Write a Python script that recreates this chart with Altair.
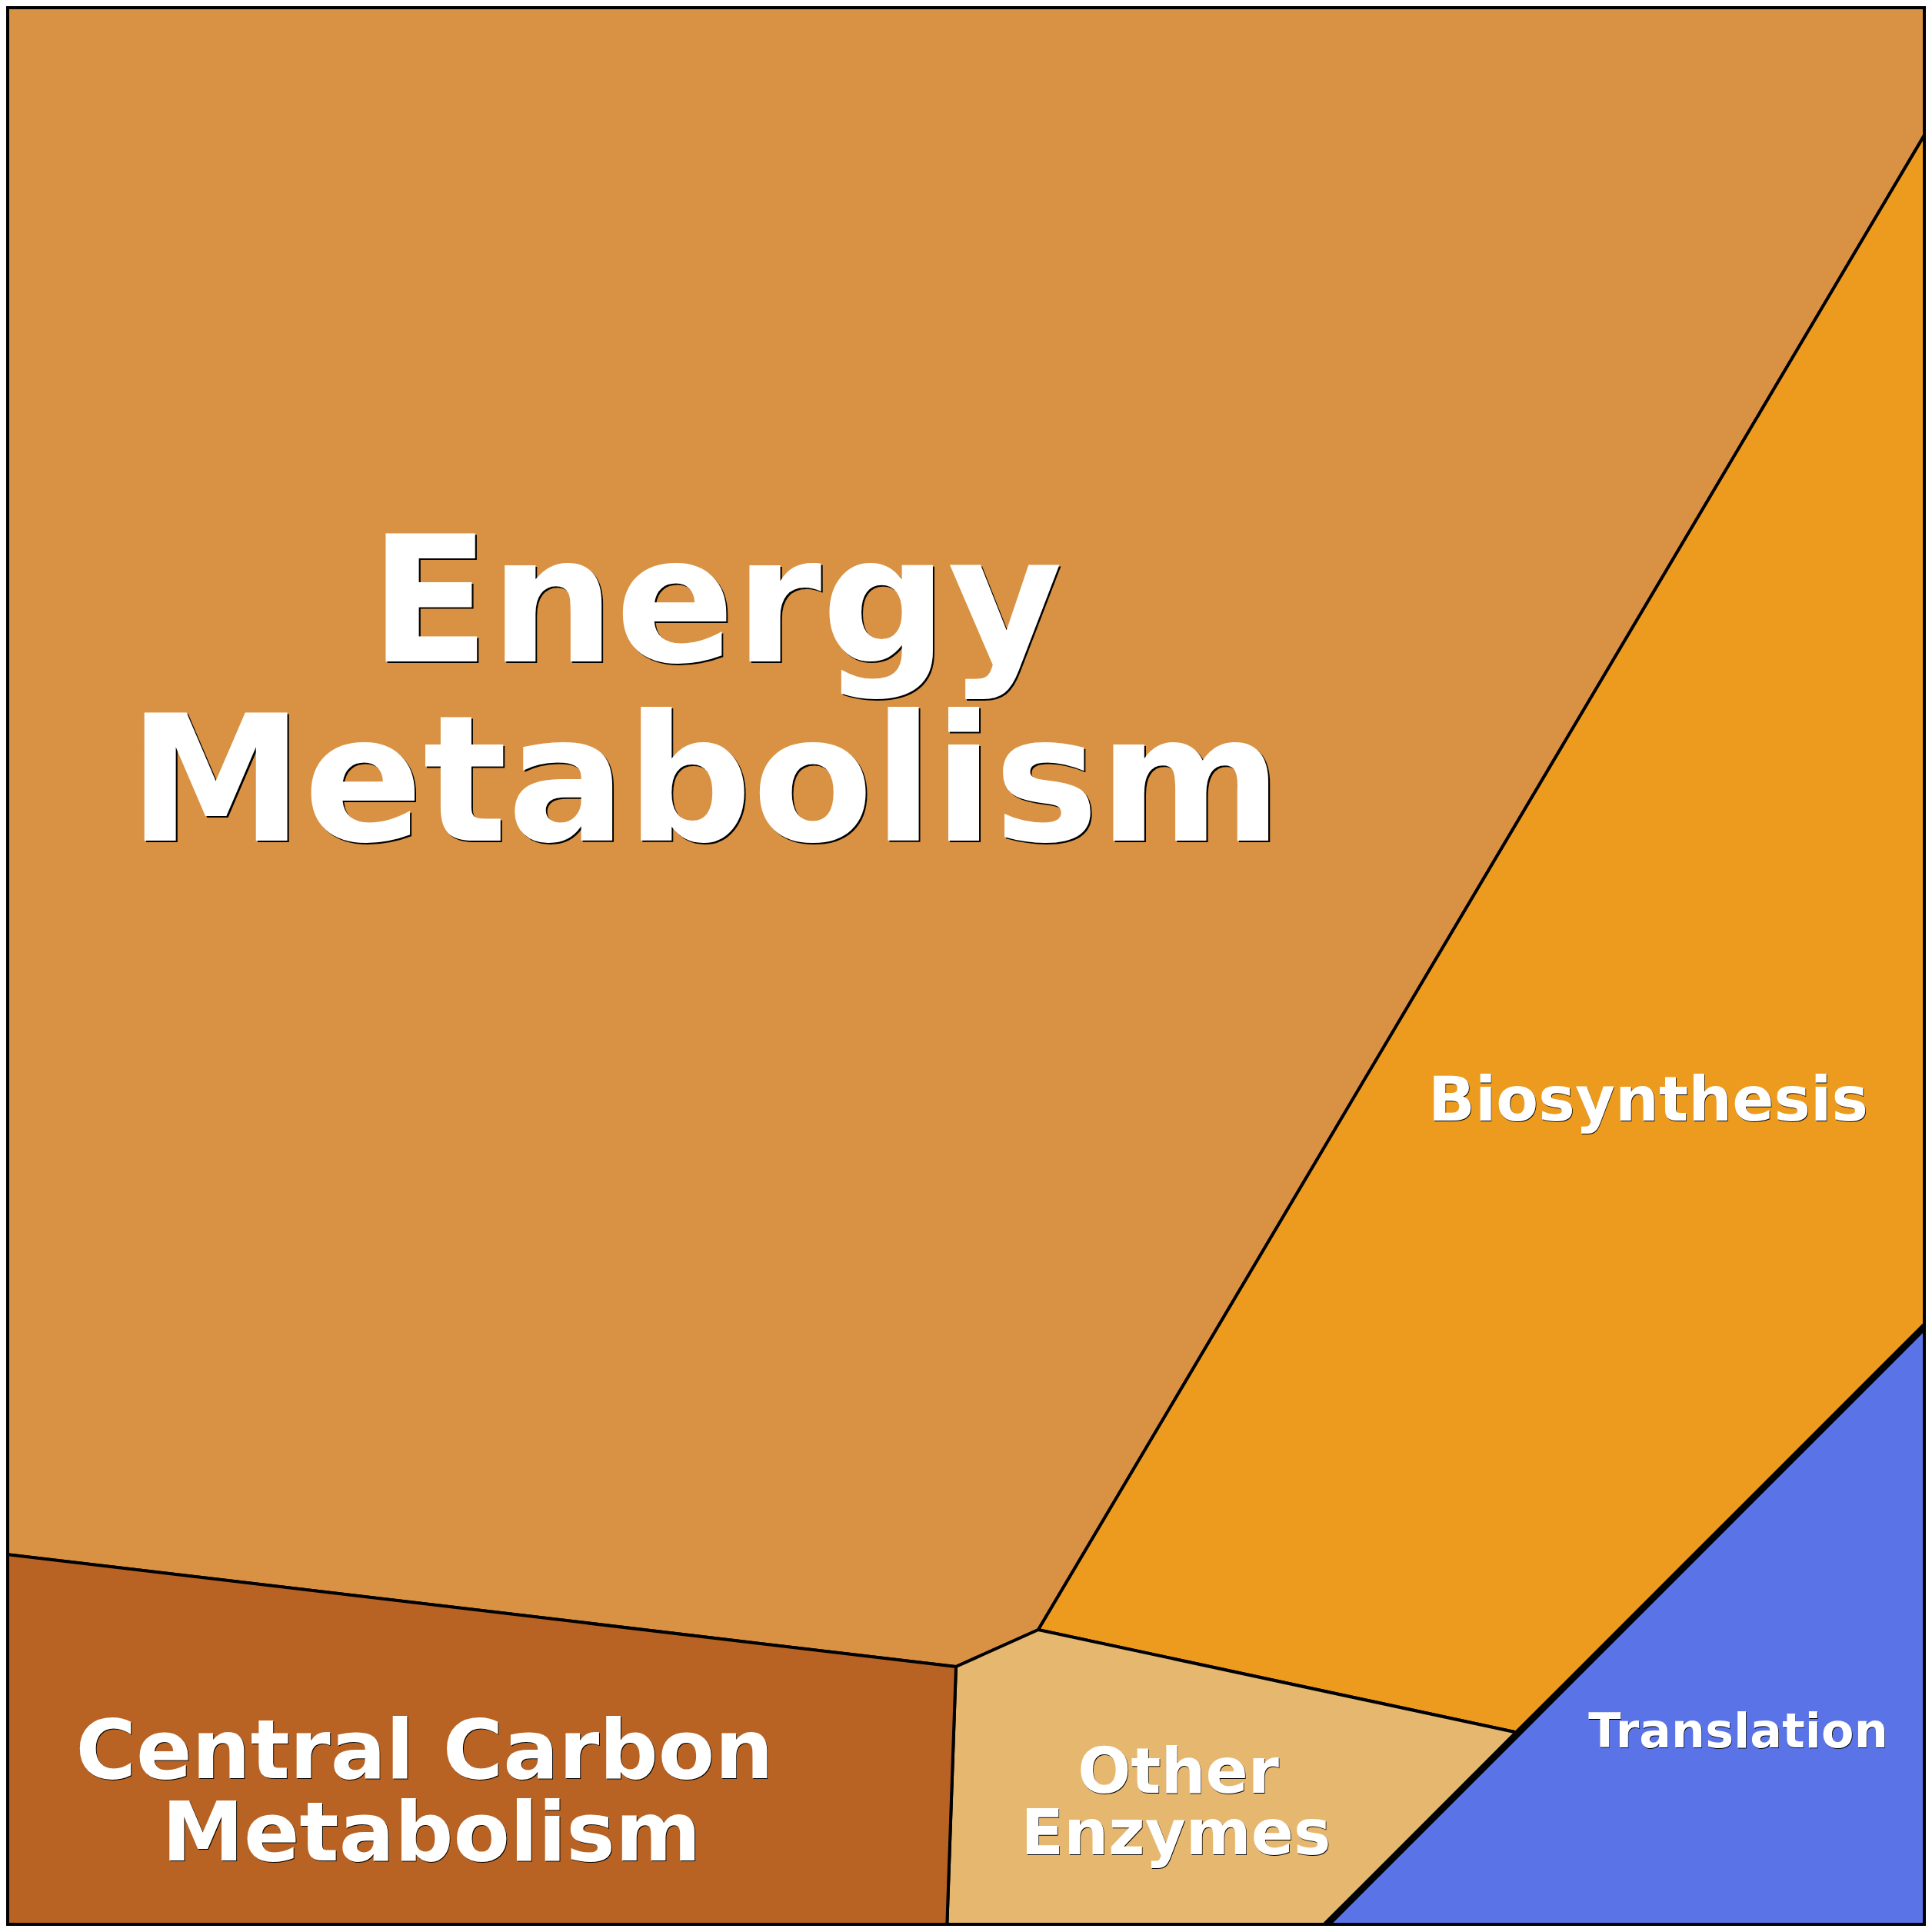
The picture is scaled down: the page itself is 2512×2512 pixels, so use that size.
import altair as alt
import pandas as pd

# Voronoi treemap cells (vertex lists, reference pixel space)
categories = ["Energy Metabolism", "Biosynthesis", "Translation", "Other Enzymes", "Central Carbon Metabolism"]
colors = ["#D99243", "#EC9B1E", "#5A74E8", "#E6B76E", "#B86323"]
energy_cell = [(0, 0), (2512, 0), (2512, 159), (1350, 2119), (1243, 2167), (0, 2020)]
biosynthesis_cell = [(2512, 159), (2512, 1715), (1974, 2253), (1350, 2119)]
translation_cell = [(2512, 1715), (2512, 2512), (1715, 2512), (1974, 2253)]
other_cell = [(1243, 2167), (1350, 2119), (1974, 2253), (1715, 2512), (1231, 2512)]
central_cell = [(0, 2020), (1243, 2167), (1231, 2512), (0, 2512)]
cells = [energy_cell, biosynthesis_cell, translation_cell, other_cell, central_cell]
stroke_widths = [4, 4, 9, 4, 4]

# Label lines
label_lines = ["Energy", "Metabolism", "Biosynthesis", "Translation", "Other", "Enzymes",
               "Central Carbon", "Metabolism"]
label_x = [931, 917, 2143, 2260, 1532, 1529, 552, 561]
label_y = [860, 1093, 1457, 2272, 2331, 2411, 2312, 2419]
label_size = [229, 229, 80, 62, 81.5, 81.5, 107, 107]

OFF = 8
features = []
for name, col, poly, sw in zip(categories, colors, cells, stroke_widths):
    ring = [[x - OFF, y - OFF] for x, y in poly]
    ring.append(ring[0])
    features.append({
        "type": "Feature",
        "properties": {"name": name, "color": col, "sw": sw},
        "geometry": {"type": "Polygon", "coordinates": [ring]},
    })

geo = alt.InlineData(values={"type": "FeatureCollection", "features": features},
                     format=alt.DataFormat(property="features", type="json"))

cells_layer = alt.Chart(geo).mark_geoshape(stroke="black").encode(
    fill=alt.Color("properties.color:N", scale=None),
    strokeWidth=alt.StrokeWidth("properties.sw:Q", scale=None),
    order=alt.Order("properties.sw:Q"),
).project(type="identity", scale=1, translate=[0, 0])

lab = pd.DataFrame({
    "t": label_lines,
    "x": [v - OFF for v in label_x],
    "y": [v - OFF for v in label_y],
    "s": label_size,
})
lab["xs"] = lab["x"] + lab["s"] / 110.0
lab["ys"] = lab["y"] + lab["s"] / 110.0

shadow = alt.Chart(lab).mark_text(font="DejaVu Sans", fontWeight="bold", align="center",
                                   baseline="alphabetic", color="black").encode(
    x=alt.X("xs:Q", scale=None, axis=None),
    y=alt.Y("ys:Q", scale=None, axis=None),
    size=alt.Size("s:Q", scale=None, legend=None),
    text="t:N",
)
text = alt.Chart(lab).mark_text(font="DejaVu Sans", fontWeight="bold", align="center",
                                 baseline="alphabetic", color="white").encode(
    x=alt.X("x:Q", scale=None, axis=None),
    y=alt.Y("y:Q", scale=None, axis=None),
    size=alt.Size("s:Q", scale=None, legend=None),
    text="t:N",
)

border = alt.Chart(pd.DataFrame({"a": [0]})).mark_rect(
    filled=False, stroke="black", strokeWidth=8, cornerRadius=4
).encode(x=alt.value(0), x2=alt.value(2496), y=alt.value(0), y2=alt.value(2496))

chart = alt.layer(cells_layer, shadow, text, border).properties(
    width=2496, height=2496, padding=0, autosize=alt.AutoSizeParams(type="none")
).configure_view(stroke=None)

chart.save("out.html", embed_options={"renderer": "svg", "actions": False})
